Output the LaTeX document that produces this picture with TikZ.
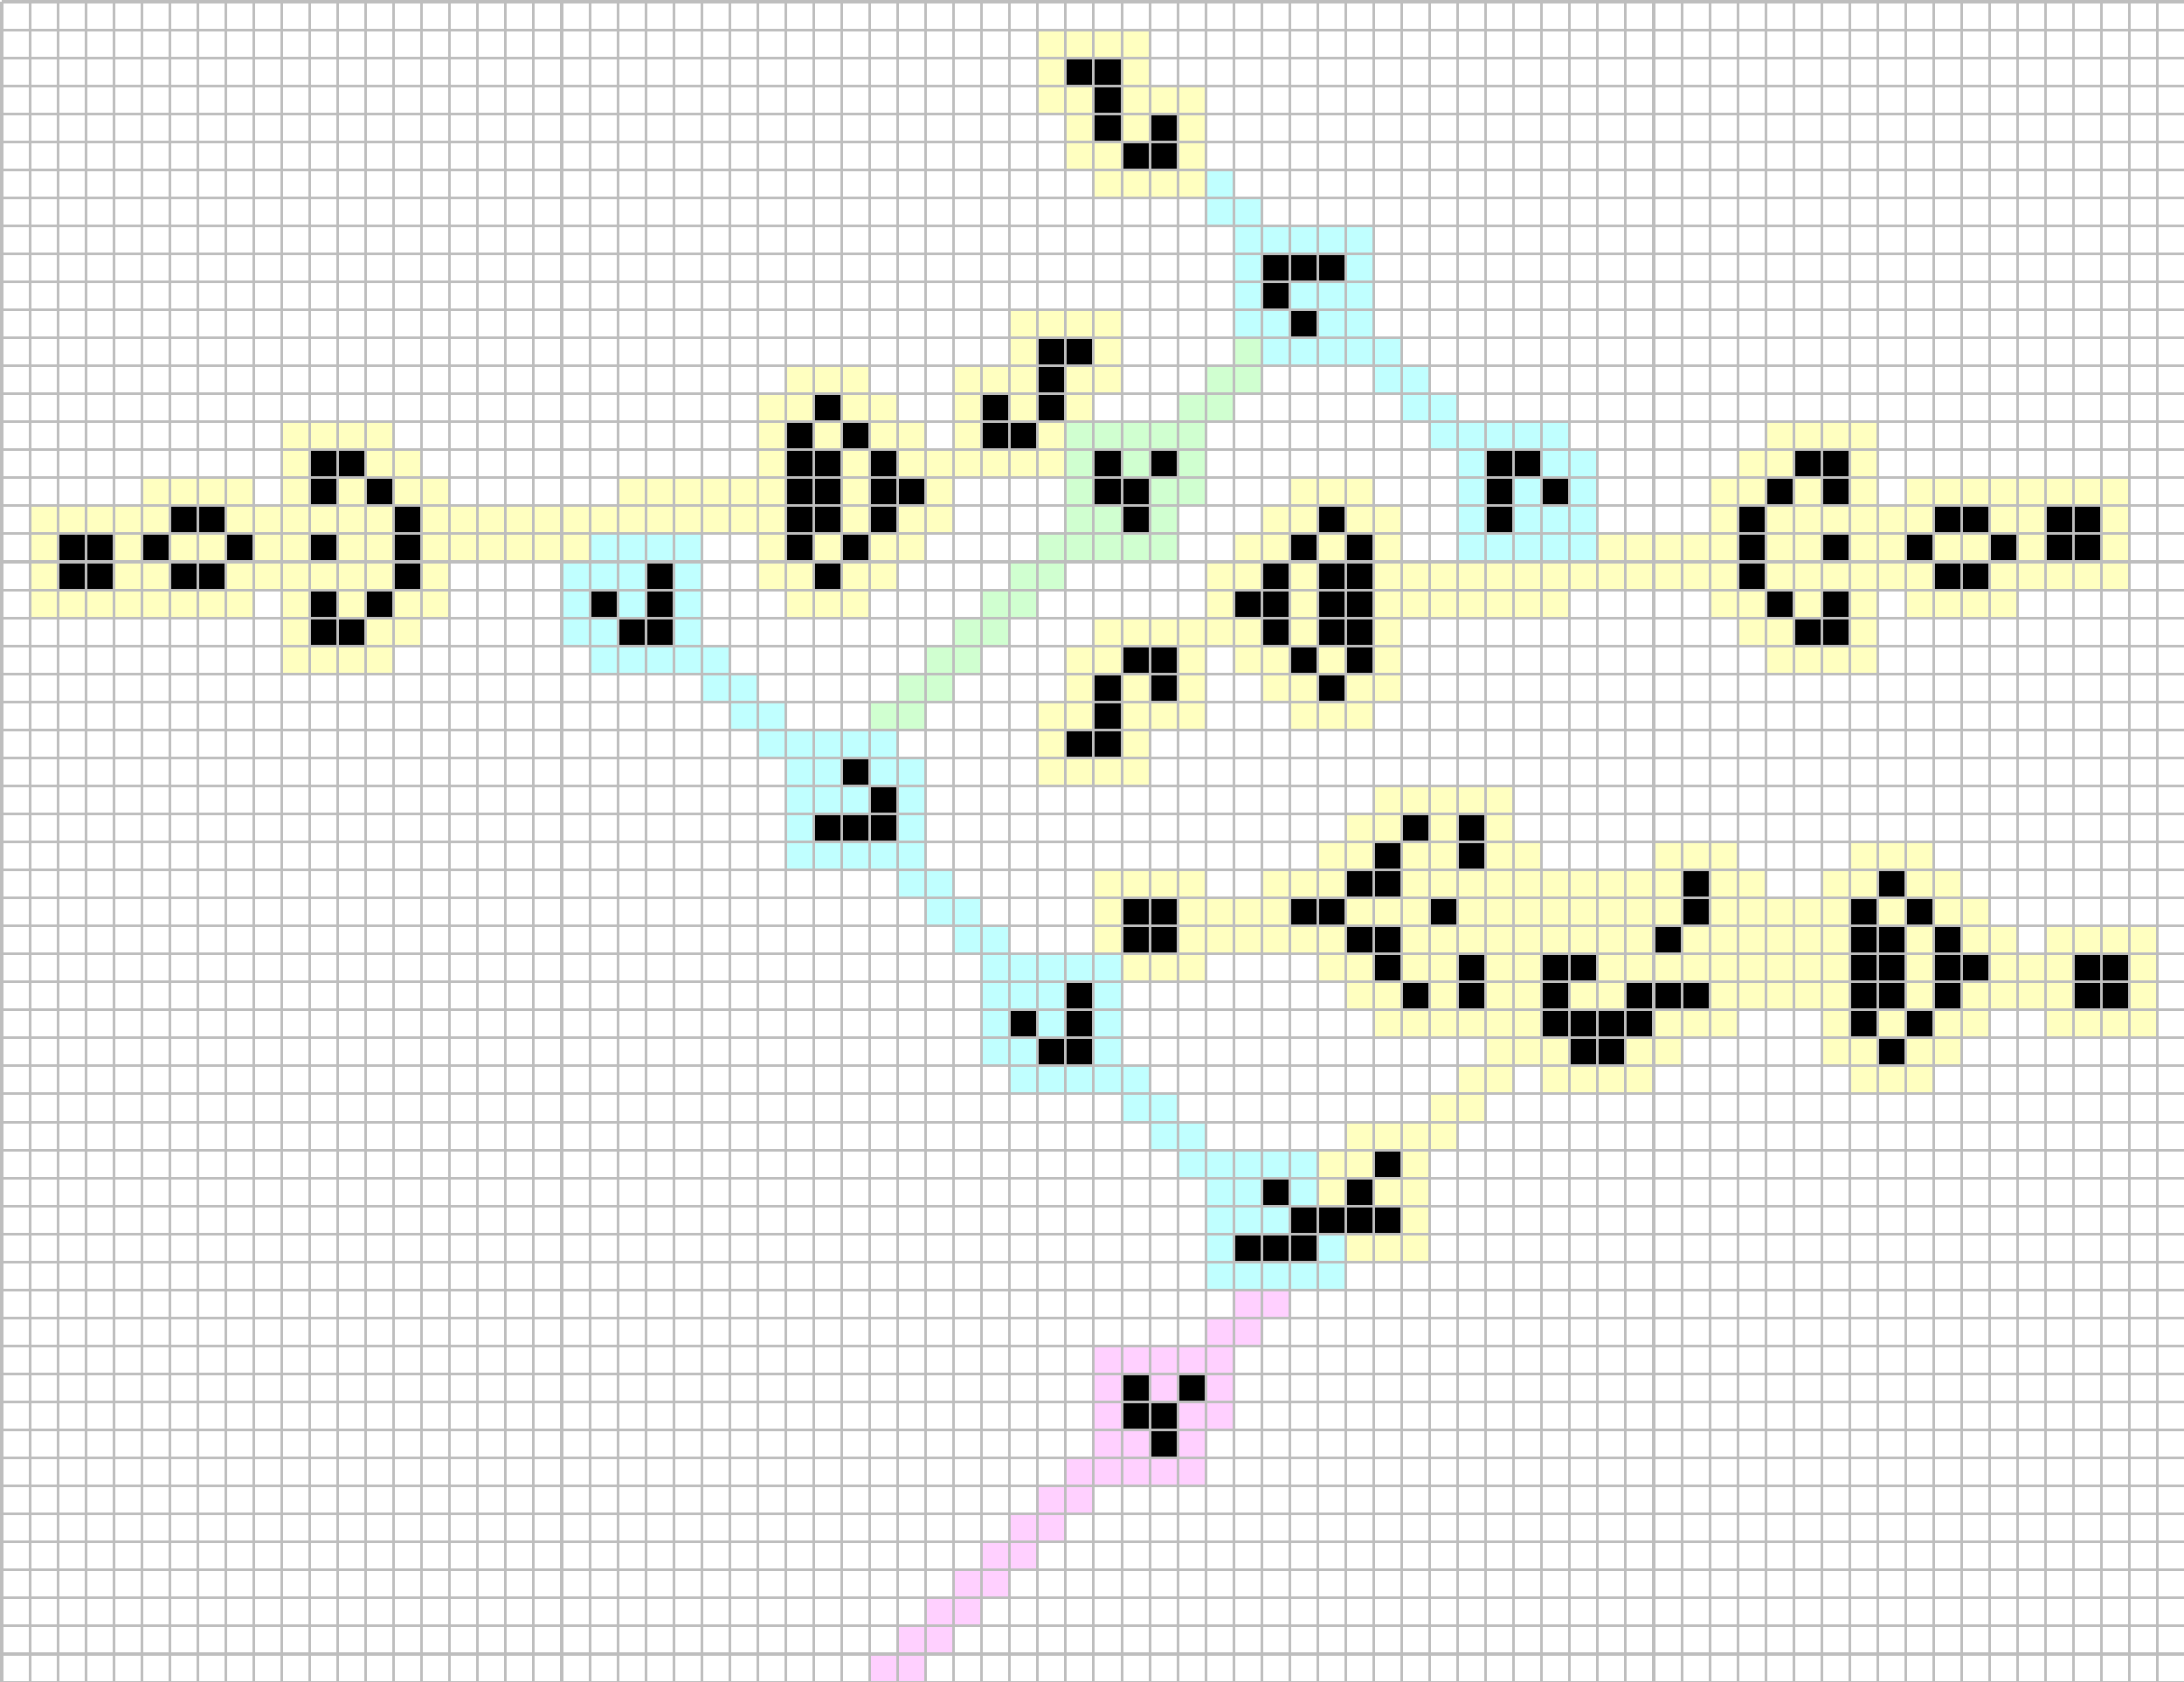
\documentclass[tikz,border=0pt]{standalone}
\definecolor{cellY}{RGB}{255,255,192}
\definecolor{cellC}{RGB}{192,255,255}
\definecolor{cellG}{RGB}{208,255,208}
\definecolor{cellP}{RGB}{255,208,255}
\definecolor{gridc}{RGB}{190,190,190}
\begin{document}
\begin{tikzpicture}[x=1cm,y=-1cm,gridline/.style={gridc,line width=2.7pt}]
    \useasboundingbox(-0.0624,-0.0624)rectangle(77.94,59.97);
    \foreach \r/\a/\b in {1/37/40,2/37/40,3/37/42,4/38/42,5/38/42,6/39/42,11/36/39,12/36/39,13/28/30,13/34/39,
        14/27/31,14/34/38,15/10/13,15/27/32,15/34/37,15/63/66,16/10/14,16/27/37,16/62/66,17/5/8,17/10/15,17/22/33,
        17/46/48,17/61/66,17/68/75,18/1/33,18/45/49,18/61/75,19/1/20,19/27/32,19/44/49,19/57/75,20/1/15,20/27/31,
        20/43/75,21/1/8,21/10/15,21/28/30,21/43/55,21/61/66,21/68/71,22/10/14,22/39/49,22/62/66,23/10/13,23/38/42,
        23/44/49,23/63/66,24/38/42,24/45/49,25/37/42,25/46/48,26/37/40,27/37/40,28/49/53,29/48/53,30/47/54,30/59/61,
        30/66/68,31/39/42,31/45/62,31/65/69,32/39/70,33/39/71,33/73/76,34/40/42,34/47/76,35/48/76,36/49/61,36/65/70,
        36/73/76,37/53/59,37/65/69,38/52/53,38/55/58,38/66/68,39/51/52,40/48/51,41/47/50,42/47/50,43/48/50,44/48/50}
        \fill[cellY](\a,\r)rectangle(\b+1,\r+1);
    \foreach \r/\a/\b in {6/43/43,7/43/44,8/44/48,9/44/48,10/44/48,11/44/48,12/45/49,13/49/50,14/50/51,15/51/55,
        16/52/56,17/52/56,18/52/56,19/21/24,19/52/56,20/20/24,21/20/24,22/20/24,23/21/25,24/25/26,25/26/27,26/27/31,
        27/28/32,28/28/32,29/28/32,30/28/32,31/32/33,32/33/34,33/34/35,34/35/39,35/35/39,36/35/39,37/35/39,38/36/40,
        39/40/41,40/41/42,41/42/46,42/43/46,43/43/47,44/43/47,45/43/47}
        \fill[cellC](\a,\r)rectangle(\b+1,\r+1);
    \foreach \r/\a/\b in {12/44/44,13/43/44,14/42/43,15/38/42,16/38/42,17/38/42,18/38/41,19/37/41,20/36/37,
        21/35/36,22/34/35,23/33/34,24/32/33,25/31/32}
        \fill[cellG](\a,\r)rectangle(\b+1,\r+1);
    \foreach \r/\a/\b in {46/44/45,47/43/44,48/39/43,49/39/43,50/39/43,51/39/42,52/38/42,53/37/38,54/36/37,
        55/35/36,56/34/35,57/33/34,58/32/33,59/31/32}
        \fill[cellP](\a,\r)rectangle(\b+1,\r+1);
    \foreach \r/\l in {2/{38,39},3/{39},4/{39,41},5/{40,41},9/{45,46,47},10/{45},11/{46},12/{37,38},13/{37},
        14/{29,35,37},15/{28,30,35,36},16/{11,12,28,29,31,39,41,53,54,64,65},
        17/{11,13,28,29,31,32,39,40,53,55,63,65},18/{6,7,14,28,29,31,40,47,53,62,69,70,73,74},
        19/{2,3,5,8,11,14,28,30,46,48,62,65,68,71,73,74},20/{2,3,6,7,14,23,29,45,47,48,62,69,70},
        21/{11,13,21,23,44,45,47,48,63,65},22/{11,12,22,23,45,47,48,64,65},23/{40,41,46,48},24/{39,41,47},
        25/{39},26/{38,39},27/{30},28/{31},29/{29,30,31,50,52},30/{49,52},31/{48,49,60,67},
        32/{40,41,46,47,51,60,66,68},33/{40,41,48,49,59,66,67,69},34/{49,52,55,56,66,67,69,70,74,75},
        35/{38,50,52,55,58,59,60,66,67,69,74,75},36/{36,38,55,56,57,58,66,68},37/{37,38,56,57,67},
        41/{49},42/{45,48},43/{46,47,48,49},44/{44,45,46},49/{40,42},50/{40,41},51/{41}}
        \foreach \c in \l \fill(\c,\r)rectangle +(1,1);
    \draw[gridline](0,0)grid(78,60);
\end{tikzpicture}
\end{document}
